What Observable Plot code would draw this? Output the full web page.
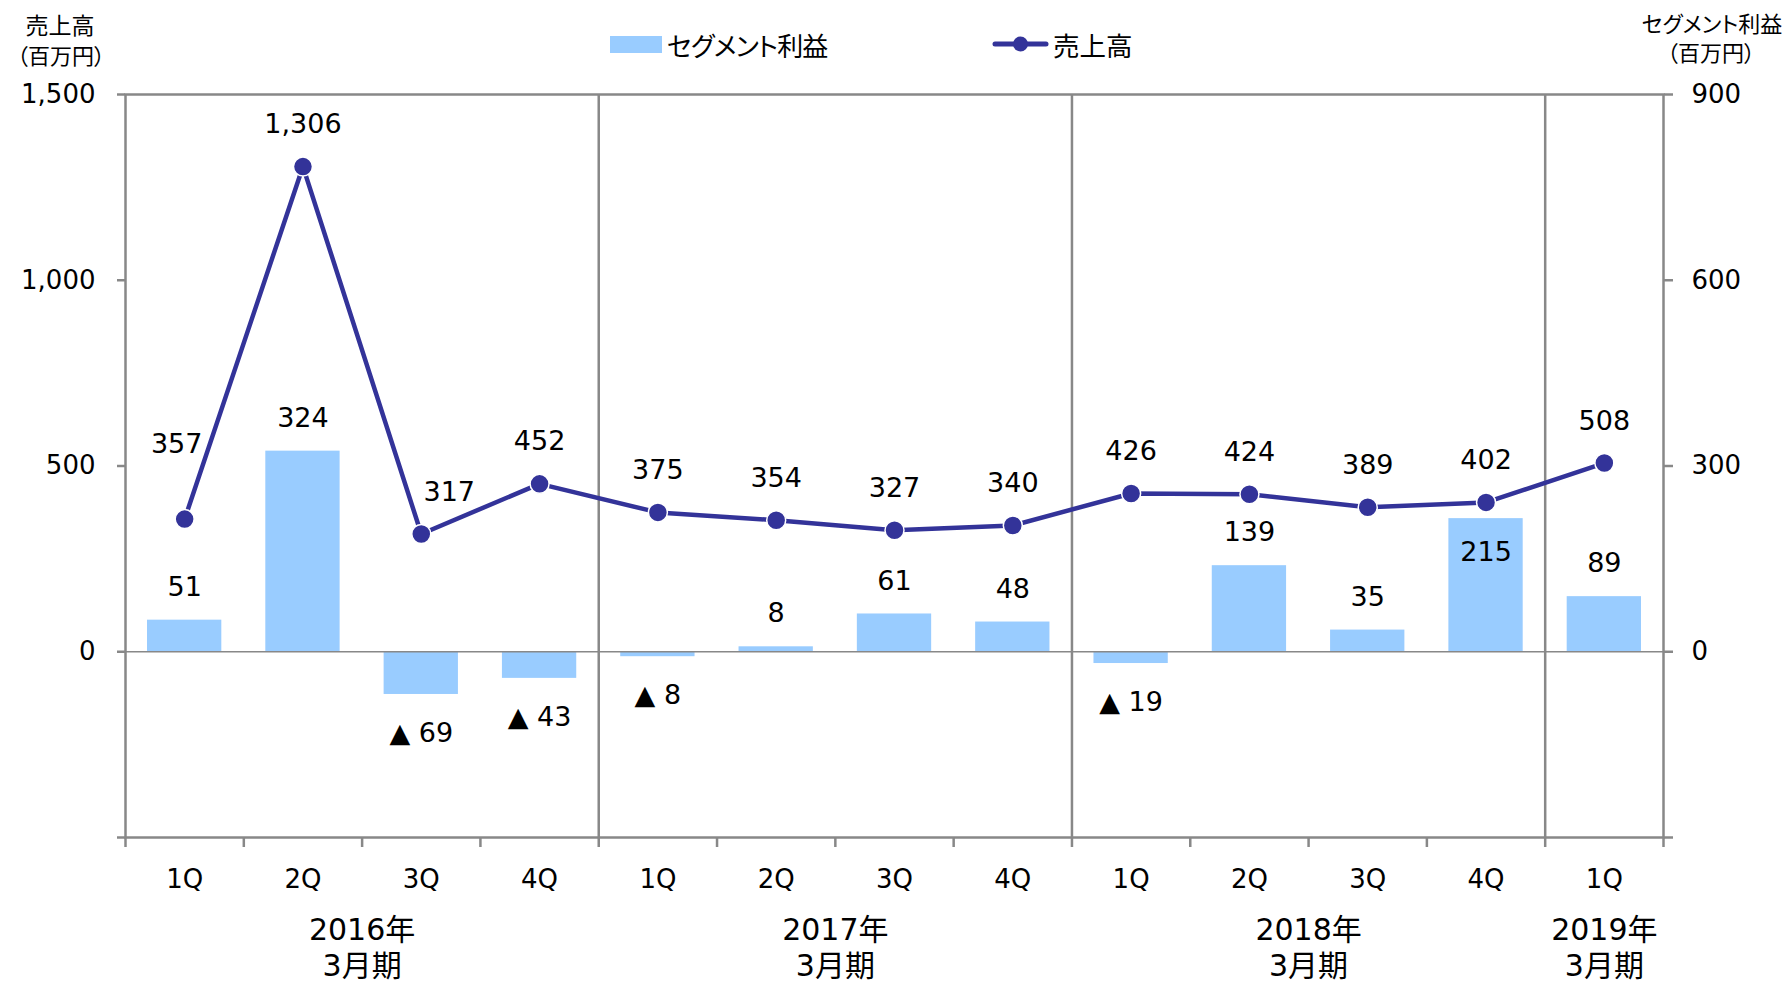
<!DOCTYPE html>
<html>
<head>
<meta charset="utf-8">
<script src="https://cdn.jsdelivr.net/npm/d3@7"></script>
<script src="https://cdn.jsdelivr.net/npm/@observablehq/plot@0.6"></script>
<style>
  html, body { margin: 0; padding: 0; background: #fff; }
  #wrap { position: relative; width: 1785px; height: 982px; overflow: hidden; }
  .jp { font-family: "Noto Sans CJK JP", sans-serif; font-feature-settings: "palt"; color: #000; position: absolute; white-space: nowrap; line-height: 1; }
  .ctr { transform: translate(-50%, -50%); }
</style>
</head>
<body>
<div id="wrap">
  <div id="chart"></div>
  <div class="jp ctr" style="left:60px; top:24px; font-size:23px;">売上高</div>
  <div class="jp ctr" style="left:61px; top:54px; font-size:22px;">（百万円）</div>
  <div class="jp ctr" style="left:1712px; top:22px; font-size:22px;">セグメント利益</div>
  <div class="jp ctr" style="left:1711px; top:51px; font-size:22px;">（百万円）</div>
  <div style="position:absolute; left:610px; top:36px; width:52px; height:17px; background:#99CCFF;"></div>
  <div class="jp" style="left:667px; top:45px; transform:translateY(-50%); font-size:26px; letter-spacing:-0.8px;">セグメント利益</div>
  <svg style="position:absolute; left:988px; top:34px;" width="66" height="20">
    <line x1="7" y1="10" x2="58" y2="10" stroke="#333399" stroke-width="5" stroke-linecap="round"></line>
    <circle cx="32.5" cy="10" r="7.5" fill="#333399"></circle>
  </svg>
  <div class="jp" style="left:1053px; top:45px; transform:translateY(-50%); font-size:26.5px;">売上高</div>
</div>
<script>
// ---- data ----
const quarters = ["1Q","2Q","3Q","4Q","1Q","2Q","3Q","4Q","1Q","2Q","3Q","4Q","1Q"];
const fiscalYears = ["2016年\n3月期","2016年\n3月期","2016年\n3月期","2016年\n3月期",
                     "2017年\n3月期","2017年\n3月期","2017年\n3月期","2017年\n3月期",
                     "2018年\n3月期","2018年\n3月期","2018年\n3月期","2018年\n3月期",
                     "2019年\n3月期"];
const sales  = [357, 1306, 317, 452, 375, 354, 327, 340, 426, 424, 389, 402, 508];   // 売上高 (左軸)
const profit = [51, 324, -69, -43, -8, 8, 61, 48, -19, 139, 35, 215, 89];           // セグメント利益 (右軸)
const leftTicks  = [-500, 0, 500, 1000, 1500];
const rightTicks = [-300, 0, 300, 600, 900];
const leftDomain  = [-500, 1500];
const rightDomain = [-300, 900];

// ---- derived table ----
const k = (leftDomain[1] - leftDomain[0]) / (rightDomain[1] - rightDomain[0]); // right -> left units
const data = quarters.map((q, i) => ({i, q, fy: fiscalYears[i], sales: sales[i], profit: profit[i], p: profit[i] * k}));
const fyGroups = d3.groups(data, d => d.fy).map(([fy, rows]) => ({fy, x: d3.mean(rows, r => r.i), start: d3.min(rows, r => r.i)}));
const boundaries = d3.range(data.length + 1).map(i => i - 0.5);
const fmt = d3.format(",");

const gray = "#888888";
const W = 1785, H = 982;

const salesText = (rows, opts) => Plot.text(rows, {x: "i", y: "sales", text: d => fmt(d.sales), fontSize: 27, ...opts});

const chart = Plot.plot({
  width: W,
  height: H,
  marginLeft: 125,
  marginRight: 122,
  marginTop: 94,
  marginBottom: 145,
  style: {fontFamily: "'DejaVu Sans', 'Noto Sans CJK JP', sans-serif", fontSize: "26px", color: "#000", background: "#fff"},
  x: {type: "linear", domain: [-0.5, data.length - 0.5], axis: null},
  y: {domain: leftDomain, axis: null},
  marks: [
    // bars: segment profit on right scale
    Plot.rectY(data, {x1: d => d.i - 0.5, x2: d => d.i + 0.5, y: "p", fill: "#99CCFF", insetLeft: 22, insetRight: 22}),
    // zero line
    Plot.ruleY([0], {stroke: gray, strokeWidth: 1.5}),
    // frame
    Plot.frame({stroke: gray, strokeWidth: 2.5}),
    // fiscal-year dividers
    Plot.ruleX(fyGroups.filter(g => g.start > 0), {x: g => g.start - 0.5, stroke: gray, strokeWidth: 2.5}),
    // x tick marks at band boundaries
    Plot.ruleX(boundaries, {x: d => d, y1: leftDomain[0], y2: leftDomain[0], insetTop: -5, insetBottom: -5, dy: 5, stroke: gray, strokeWidth: 2.5}),
    // left axis ticks
    Plot.axisY(leftTicks, {anchor: "left", tickSize: 8, tickFormat: () => "", stroke: gray, strokeWidth: 2.5}),
    // right axis ticks
    Plot.axisY(rightTicks.map(t => t * k), {anchor: "right", tickSize: 9, tickFormat: () => "", stroke: gray, strokeWidth: 2.5}),
    // left tick labels
    Plot.text(leftTicks.filter(t => t >= 0), {y: d => d, text: d => fmt(d), frameAnchor: "left", textAnchor: "end", dx: -30, fontSize: 26}),
    // right tick labels
    Plot.text(rightTicks.filter(t => t >= 0), {y: d => d * k, text: d => fmt(d), frameAnchor: "right", textAnchor: "start", dx: 28, fontSize: 26}),
    // quarter labels
    Plot.text(data, {x: "i", text: "q", frameAnchor: "bottom", dy: 50, fontSize: 26}),
    // fiscal-year labels
    Plot.text(fyGroups, {x: "x", text: "fy", frameAnchor: "bottom", lineAnchor: "middle", dy: 109, lineHeight: 1.2, fontSize: 30}),
    // sales line
    Plot.line(data, {x: "i", y: "sales", stroke: "#333399", strokeWidth: 4.5}),
    Plot.dot(data, {x: "i", y: "sales", r: 9.5, fill: "#333399", stroke: "#fff", strokeWidth: 1.5}),
    // sales labels (a few nudged as in the original to avoid overlaps)
    salesText(data.filter(d => d.i !== 0 && d.i !== 2), {dy: -42}),
    salesText(data.filter(d => d.i === 0), {dy: -75, dx: -8}),
    salesText(data.filter(d => d.i === 2), {dy: -42, dx: 28}),
    // profit labels (positive, above bar)
    Plot.text(data.filter(d => d.profit >= 0 && d.i !== 11), {x: "i", y: "p", text: d => fmt(d.profit), dy: -33, fontSize: 27}),
    // profit label inside bar (avoid overlap with line label)
    Plot.text(data.filter(d => d.i === 11), {x: "i", y: "p", text: d => fmt(d.profit), dy: 34, fontSize: 27}),
    // profit labels (negative, below bar, ▲ notation)
    Plot.text(data.filter(d => d.profit < 0), {x: "i", y: "p", text: d => "▲ " + fmt(-d.profit), dy: 39, fontSize: 27})
  ]
});
document.getElementById("chart").appendChild(chart);
</script>
</body>
</html>
